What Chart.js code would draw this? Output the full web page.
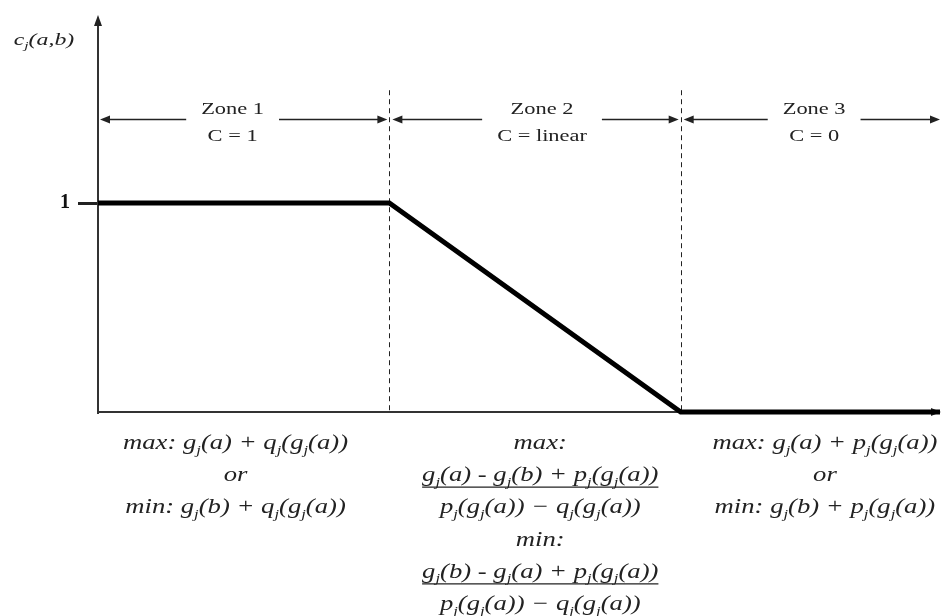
<!DOCTYPE html>
<html>
<head>
<meta charset="utf-8">
<script src="https://cdn.jsdelivr.net/npm/chart.js@4"></script>
<style>
  html, body { margin: 0; padding: 0; background: #fff; }
  #wrap { width: 941px; height: 616px; }
</style>
</head>
<body>
<div id="wrap"><canvas id="c" width="941" height="616"></canvas></div>
<script>
// ---- data ----
const breakpoints = [0, 1, 2, 2.89];      // x positions of the piecewise line
const cValues = [1, 1, 0, 0];             // c_j(a,b) at each breakpoint
const zoneBounds = [1, 2];                // dashed zone boundaries
const yTickValues = [1];
const yTickLabels = ['1'];
const zoneNames = ['Zone 1', 'Zone 2', 'Zone 3'];
const zoneRules = ['C = 1', 'C = linear', 'C = 0'];
const zoneLabelX = [0.462, 1.524, 2.458];
const zoneBottomX = [0.472, 1.518, 2.495];
const yAxisTitle = 'c_j(a,b)';
// bottom formulas: '~' prefix marks an underlined numerator
const zoneFormulas = [
  ['max: g_j(a) + q_j(g_j(a))', 'or', 'min: g_j(b) + q_j(g_j(a))'],
  ['max:', '~g_j(a) - g_j(b) + p_j(g_j(a))', 'p_j(g_j(a)) \u2212 q_j(g_j(a))',
   'min:', '~g_j(b) - g_j(a) + p_j(g_j(a))', 'p_j(g_j(a)) \u2212 q_j(g_j(a))'],
  ['max: g_j(a) + p_j(g_j(a))', 'or', 'min: g_j(b) + p_j(g_j(a))']
];

const SERIF = '"Liberation Serif", "DejaVu Serif", serif';

function tokens(str) {
  const out = [];
  let buf = '';
  for (let i = 0; i < str.length; i++) {
    if (str[i] === '_' && i + 1 < str.length) {
      if (buf) out.push({t: buf, sub: false});
      buf = '';
      out.push({t: str[i + 1], sub: true});
      i++;
    } else buf += str[i];
  }
  if (buf) out.push({t: buf, sub: false});
  return out;
}

// draws text centred at cx with horizontal stretch sx; returns drawn width
function drawMath(ctx, str, cx, y, size, italic, underline, sx) {
  const toks = tokens(str);
  const st = italic ? 'italic ' : '';
  const mainF = st + size + 'px ' + SERIF;
  const subF = st + Math.round(size * 0.62) + 'px ' + SERIF;
  let w = 0;
  toks.forEach(tk => { ctx.font = tk.sub ? subF : mainF; tk.w = ctx.measureText(tk.t).width; w += tk.w; });
  ctx.save();
  ctx.translate(cx, y);
  ctx.scale(sx, 1);
  let x = -w / 2;
  ctx.textBaseline = 'alphabetic';
  ctx.textAlign = 'left';
  toks.forEach(tk => {
    ctx.font = tk.sub ? subF : mainF;
    ctx.fillText(tk.t, x, tk.sub ? size * 0.22 : 0);
    x += tk.w;
  });
  ctx.restore();
  if (underline) {
    ctx.beginPath();
    ctx.lineWidth = 1.3;
    ctx.moveTo(cx - w * sx / 2, y + 6);
    ctx.lineTo(cx + w * sx / 2, y + 6);
    ctx.stroke();
  }
  return w * sx;
}

function arrowHead(ctx, x, y, dir, len, half) {
  ctx.beginPath();
  if (dir === 'right') { ctx.moveTo(x, y); ctx.lineTo(x - len, y - half); ctx.lineTo(x - len, y + half); }
  else if (dir === 'left') { ctx.moveTo(x, y); ctx.lineTo(x + len, y - half); ctx.lineTo(x + len, y + half); }
  else if (dir === 'up') { ctx.moveTo(x, y); ctx.lineTo(x - half, y + len); ctx.lineTo(x + half, y + len); }
  ctx.closePath();
  ctx.fill();
}

const diagramPlugin = {
  id: 'diagram',
  beforeDatasetsDraw(chart) {
    const {ctx, chartArea, scales: {x, y}} = chart;
    const x0 = chartArea.left, yb = y.getPixelForValue(0);
    ctx.save();
    ctx.strokeStyle = '#333';
    ctx.fillStyle = '#222';
    // axes
    ctx.lineWidth = 2;
    ctx.beginPath();
    ctx.moveTo(x0, yb + 2); ctx.lineTo(x0, chartArea.top + 6);
    ctx.moveTo(x0, yb); ctx.lineTo(chartArea.right - 4, yb);
    ctx.stroke();
    arrowHead(ctx, x0, chartArea.top, 'up', 11, 4);
    arrowHead(ctx, chartArea.right + 1, yb, 'right', 10, 4);
    // dashed zone boundaries
    ctx.lineWidth = 1;
    ctx.setLineDash([5, 4]);
    ctx.strokeStyle = '#222';
    zoneBounds.forEach(b => {
      const px = Math.round(x.getPixelForValue(b)) + 0.5;
      ctx.beginPath();
      ctx.moveTo(px, y.getPixelForValue(1.54));
      ctx.lineTo(px, yb);
      ctx.stroke();
    });
    ctx.setLineDash([]);
    // zone arrows + labels
    const edges = [x0 + 2, x.getPixelForValue(zoneBounds[0]) - 2, x.getPixelForValue(zoneBounds[0]) + 3,
                   x.getPixelForValue(zoneBounds[1]) - 2, x.getPixelForValue(zoneBounds[1]) + 3, chartArea.right];
    const ay = y.getPixelForValue(1.40);
    const LSX = 1.4;
    for (let i = 0; i < 3; i++) {
      const L = edges[2 * i], R = edges[2 * i + 1];
      const cx = x.getPixelForValue(zoneLabelX[i]);
      ctx.font = '16px ' + SERIF;
      const tw = LSX * Math.max(ctx.measureText(zoneNames[i]).width, ctx.measureText(zoneRules[i]).width);
      const gap = tw / 2 + 15;
      ctx.strokeStyle = '#222';
      ctx.lineWidth = 1.5;
      ctx.beginPath();
      ctx.moveTo(L + 6, ay); ctx.lineTo(cx - gap, ay);
      ctx.moveTo(cx + gap, ay); ctx.lineTo(R - 6, ay);
      ctx.stroke();
      arrowHead(ctx, L, ay, 'left', 10, 4);
      arrowHead(ctx, R, ay, 'right', 10, 4);
      ctx.fillStyle = '#222';
      drawMath(ctx, zoneNames[i], cx, ay - 5, 16, false, false, LSX);
      drawMath(ctx, zoneRules[i], cx, ay + 22, 16, false, false, LSX);
    }
    // bottom formulas
    ctx.fillStyle = '#222';
    ctx.strokeStyle = '#222';
    zoneFormulas.forEach((lines, i) => {
      const cx = x.getPixelForValue(zoneBottomX[i]);
      const step = 32.2;
      lines.forEach((ln, k) => {
        const ul = ln[0] === '~';
        drawMath(ctx, ul ? ln.slice(1) : ln, cx, yb + 37 + k * step, 21, true, ul, 1.27);
      });
    });
    // y axis title
    drawMath(ctx, yAxisTitle, 44, 45, 17, true, false, 1.4);
    ctx.restore();
  }
};

new Chart(document.getElementById('c'), {
  type: 'line',
  data: {
    datasets: [{
      data: breakpoints.map((bx, i) => ({x: bx, y: cValues[i]})),
      borderColor: '#000',
      borderWidth: 5,
      pointRadius: 0,
      tension: 0,
      fill: false,
      clip: false
    }]
  },
  options: {
    responsive: false,
    animation: false,
    devicePixelRatio: 1,
    layout: {padding: {top: 15, right: 1, left: 0, bottom: 0}},
    plugins: {legend: {display: false}, tooltip: {enabled: false}, title: {display: false}},
    scales: {
      x: {
        type: 'linear', min: 0, max: breakpoints[breakpoints.length - 1],
        grid: {display: false}, border: {display: false},
        ticks: {display: false},
        afterFit(s) { s.height = 204; s.paddingLeft = 0; s.paddingRight = 0; }
      },
      y: {
        type: 'linear', min: 0, max: 1.9,
        afterBuildTicks(s) { s.ticks = yTickValues.map(v => ({value: v})); },
        ticks: {
          callback(v) { const i = yTickValues.indexOf(v); return i >= 0 ? yTickLabels[i] : ''; },
          font: {family: SERIF, size: 20, weight: 'bold'},
          color: '#111', padding: 8
        },
        grid: {drawOnChartArea: false, drawTicks: true, tickLength: 20, color: '#222', lineWidth: 3},
        border: {display: false},
        afterFit(s) { s.width = 98; s.paddingTop = 0; s.paddingBottom = 0; }
      }
    }
  },
  plugins: [diagramPlugin]
});
</script>
</body>
</html>
